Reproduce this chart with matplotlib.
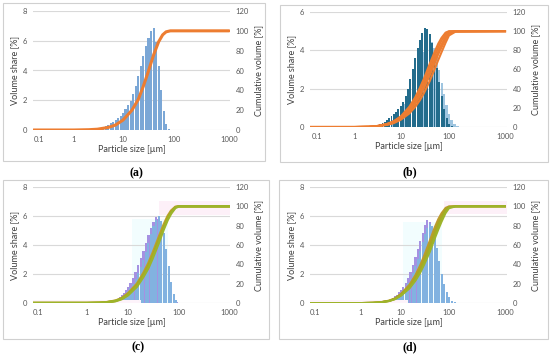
import numpy as np
import matplotlib
matplotlib.use('Agg')
import matplotlib.pyplot as plt
from matplotlib.patches import Rectangle

# ---------------- data ----------------
sizes = [2.0, 2.24, 2.51, 2.82, 3.16, 3.55, 3.98, 4.47, 5.01, 5.62, 6.31, 7.08, 7.94, 8.91,
         10.0, 11.2, 12.6, 14.1, 15.8, 17.8, 20.0, 22.4, 25.1, 28.2, 31.6, 35.5, 39.8, 44.7,
         50.1, 56.2, 63.1, 70.8, 79.4, 89.1, 100, 112, 126, 141, 158]

a_vol = [0, 0, 0.02, 0.05, 0.09, 0.14, 0.2, 0.27, 0.35, 0.44, 0.54, 0.66, 0.8, 0.96, 1.15,
         1.38, 1.65, 1.98, 2.4, 2.95, 3.6, 4.3, 5.0, 5.65, 6.2, 6.65, 6.85, 5.9, 4.3, 2.7,
         1.3, 0.4, 0.06, 0, 0, 0, 0, 0, 0]

b_dark = [0, 0.01, 0.03, 0.06, 0.1, 0.15, 0.21, 0.28, 0.36, 0.45, 0.55, 0.66, 0.78, 0.92, 1.08,
          1.3, 1.6, 2.0, 2.5, 3.05, 3.6, 4.1, 4.55, 4.9, 5.15, 5.1, 4.85, 4.4, 3.8, 3.1,
          2.35, 1.6, 0.95, 0.45, 0.15, 0.04, 0.01, 0, 0]
b_light = [0, 0, 0.01, 0.03, 0.05, 0.08, 0.12, 0.17, 0.23, 0.3, 0.38, 0.47, 0.57, 0.69, 0.82,
           0.98, 1.2, 1.48, 1.82, 2.2, 2.62, 3.05, 3.5, 3.9, 4.25, 4.5, 4.6, 4.45, 4.1, 3.6,
           3.0, 2.3, 1.7, 1.15, 0.7, 0.38, 0.18, 0.07, 0.02]

c_purple = [0, 0, 0, 0, 0.02, 0.05, 0.1, 0.15, 0.22, 0.3, 0.4, 0.52, 0.68, 0.88, 1.1,
            1.4, 1.75, 2.15, 2.6, 3.1, 3.6, 4.15, 4.7, 5.2, 5.6, 5.9, 5.8, 5.2, 4.2, 3.0,
            1.8, 0.9, 0.3, 0.05, 0, 0, 0, 0, 0]
c_blue = [0, 0, 0, 0, 0, 0.02, 0.05, 0.09, 0.14, 0.2, 0.28, 0.37, 0.48, 0.62, 0.8,
          1.02, 1.3, 1.65, 2.05, 2.5, 3.0, 3.55, 4.15, 4.75, 5.3, 5.75, 6.0, 5.65, 4.85, 3.75,
          2.55, 1.45, 0.65, 0.2, 0.03, 0, 0, 0, 0]

d_purple = [0, 0, 0, 0.01, 0.03, 0.06, 0.1, 0.15, 0.21, 0.28, 0.36, 0.46, 0.58, 0.73, 0.9,
            1.12, 1.4, 1.75, 2.15, 2.62, 3.15, 3.7, 4.3, 4.85, 5.35, 5.7, 5.6, 5.1, 4.3, 3.4,
            2.45, 1.6, 0.9, 0.4, 0.12, 0.02, 0, 0, 0]
d_blue = [0, 0, 0, 0, 0.01, 0.03, 0.06, 0.1, 0.15, 0.21, 0.28, 0.36, 0.46, 0.58, 0.72,
          0.9, 1.12, 1.4, 1.72, 2.1, 2.55, 3.05, 3.6, 4.2, 4.75, 5.2, 5.45, 5.3, 4.85, 3.8,
          2.9, 2.0, 1.3, 0.75, 0.38, 0.16, 0.06, 0.02, 0]

cum_sizes = [0.07, 1, 2, 3, 5, 7, 10, 15, 20, 25, 30, 40, 50, 60, 70, 85, 100, 130, 1000]

a_cum = [[0, 0, 0.3, 0.8, 2.6, 5, 10, 20, 31, 44, 56, 76, 89, 96, 99, 100, 100, 100, 100]]

b_cum = [
    [0, 0, 0.3, 1.0, 3.2, 6.0, 11.0, 21.0, 31, 41, 50, 66, 78, 87, 93, 98.5, 100, 100, 100],
    [0, 0, 0.3, 0.9, 3.0, 5.6, 10.2, 19.5, 29, 38, 47, 62, 74, 83, 90, 96.5, 99.5, 100, 100],
    [0, 0, 0.2, 0.8, 2.7, 5.0, 9.2, 17.5, 26, 34.5, 43, 58, 70, 79, 86, 94, 98.5, 100, 100],
    [0, 0, 0.2, 0.8, 2.4, 4.5, 8.3, 16.0, 24, 32, 40, 54, 66, 76, 83, 92, 97.5, 99.8, 100],
    [0, 0, 0.2, 0.7, 2.2, 4.0, 7.5, 14.0, 21, 28, 35, 48, 60, 70, 78, 88, 95.5, 99.4, 100],
]

c_cum = [
    [0, 0, 0.3, 0.8, 2.5, 5.0, 10, 20, 31, 41, 51, 68, 81, 90, 95.5, 99.5, 100, 100, 100],
    [0, 0, 0.3, 0.7, 2.2, 4.5, 9, 18.5, 29, 38.5, 48, 65, 78, 88, 94, 99, 100, 100, 100],
    [0, 0, 0.2, 0.6, 2.0, 4.0, 8, 17, 27, 36, 45.5, 62, 76, 86, 92.5, 98.5, 100, 100, 100],
]

d_cum = [
    [0, 0, 0.3, 0.8, 2.5, 4.8, 9.5, 19, 29, 39, 48.5, 65, 78, 87, 93, 98.5, 100, 100, 100],
    [0, 0, 0.3, 0.7, 2.3, 4.5, 9.0, 18, 27.5, 37, 46, 62, 75, 84.5, 91, 97.5, 99.6, 100, 100],
    [0, 0, 0.2, 0.7, 2.1, 4.2, 8.5, 17, 26, 35, 43.5, 59, 72, 82, 89, 96.5, 99.3, 100, 100],
    [0, 0, 0.2, 0.6, 2.0, 4.0, 8.0, 16, 24.5, 33, 41, 56, 69, 79, 86.5, 95, 98.8, 100, 100],
    [0, 0, 0.2, 0.6, 1.9, 3.8, 7.5, 15, 23, 31, 39, 53, 66, 76, 84, 93, 98, 99.8, 100],
]

x_ticks = [0.1, 1, 10, 100, 1000]
x_tick_labels = ['0.1', '1', '10', '100', '1000']
panel_labels = ['(a)', '(b)', '(c)', '(d)']

# ---------------- layout helpers ----------------
W, H = 550, 355
fig = plt.figure(figsize=(5.5, 3.55), dpi=100)
fig.patch.set_facecolor('white')

FONT = ['Lato', 'DejaVu Sans']
TICK_C = '#595959'
GRID_C = '#D9D9D9'


def make_scale(P):
    L = [-4, -1, 0, 1, 2, 3, 6]
    P2 = [P[0] - 3 * (P[1] - P[0])] + list(P) + [P[4] + 3 * (P[4] - P[3])]

    def fwd(x):
        x = np.asarray(x, float)
        lx = np.log10(np.where(x > 0, x, 1e-12))
        return np.interp(lx, L, P2)

    def inv(p):
        return 10 ** np.interp(np.asarray(p, float), P2, L)
    return fwd, inv


def add_axes(left, top, right, bottom):
    return fig.add_axes([left / W, 1 - bottom / H, (right - left) / W, (bottom - top) / H])


def frame(x0, y0, x1, y1):
    fig.patches.append(Rectangle((x0 / W, 1 - y1 / H), (x1 - x0) / W, (y1 - y0) / H,
                                 transform=fig.transFigure, fill=False,
                                 edgecolor='#D0D0D0', linewidth=0.8))


def setup(ax, ax2, tickpx, ymax_left, ystep):
    fwd, inv = make_scale(tickpx)
    ax.set_xscale('function', functions=(fwd, inv))
    ax.set_xlim(float(inv(0)), float(inv(197)))
    ax.set_xticks(x_ticks)
    ax.set_xticklabels(x_tick_labels)
    ax.xaxis.set_minor_locator(matplotlib.ticker.NullLocator())
    ax.set_ylim(0, ymax_left)
    ax.set_yticks(np.arange(0, ymax_left + 0.01, ystep))
    ax.set_yticklabels([str(int(v)) for v in np.arange(0, ymax_left + 0.01, ystep)])
    ax2.set_ylim(0, 120)
    ax2.set_yticks(range(0, 121, 20))
    ax.grid(axis='y', color=GRID_C, linewidth=0.8)
    ax.set_axisbelow(True)
    for a in (ax, ax2):
        for s in a.spines.values():
            s.set_visible(False)
        a.tick_params(length=0, colors=TICK_C, labelsize=5.5, pad=4)
        for t in a.get_xticklabels() + a.get_yticklabels():
            t.set_family(FONT)
    ax.set_xlabel('Particle size [µm]', fontsize=6.5, color='#404040', family=FONT, labelpad=2)
    ax.set_ylabel('Volume share [%]', fontsize=6.5, color='#404040', family=FONT, labelpad=3)
    ax2.set_ylabel('Cumulative volume [%]', fontsize=6.5, color='#404040', family=FONT, labelpad=4)


def bars(ax, vals, color, alpha=1.0, frac=0.85, z=2):
    s = np.asarray(sizes)
    half = 0.05 * frac / 2
    left = s * 10 ** (-half)
    right = s * 10 ** (half)
    ax.bar(left, vals, width=right - left, align='edge', color=color, alpha=alpha,
           linewidth=0, zorder=z)


# ---------------- panel frames ----------------
frame(3, 3, 265, 161)
frame(280, 5, 548, 162)
frame(3, 180, 269, 339)
frame(279, 180, 548, 339)

# ---------------- (a) ----------------
ax = add_axes(33, 11, 230, 130)
ax2 = ax.twinx()
setup(ax, ax2, [6, 41, 90, 141, 196], 8, 2)
bars(ax, a_vol, '#7BA7D6', frac=0.85)
for cv in a_cum:
    ax2.plot(cum_sizes, cv, color='#ED7D31', linewidth=2.2, solid_capstyle='round')

# ---------------- (b) ----------------
ax = add_axes(310, 12, 507, 127)
ax2 = ax.twinx()
setup(ax, ax2, [6.7, 45, 90.7, 139, 195], 6, 2)
bars(ax, b_light, '#7FB2D6', alpha=0.75, frac=0.9)
bars(ax, b_dark, '#236C8C', frac=0.8, z=3)
for cv in b_cum:
    ax2.plot(cum_sizes, cv, color='#ED7D31', linewidth=1.5)

# ---------------- (c) ----------------
ax = add_axes(33, 187, 230, 303)
ax2 = ax.twinx()
setup(ax, ax2, [5, 54, 95, 146, 196], 8, 2)
ax.axvspan(12, 60, ymin=0, ymax=0.72, color='#F2FDFE', zorder=0.5, linewidth=0)
ax2.axhspan(91, 106, xmin=0.64, xmax=1.0, color='#FDF0F8', zorder=0.5, linewidth=0)
ax2.axhspan(0, 3, xmin=0.0, xmax=0.55, color='#FDF3FA', zorder=0.5, linewidth=0)
bars(ax, c_purple, '#A591E2', frac=0.9)
bars(ax, c_blue, '#82B2E0', frac=0.8, z=3)
c_colors = ['#BFA02E', '#A9A820', '#9DB42B']
for cv, col in zip(c_cum, c_colors):
    ax2.plot(cum_sizes, cv, color=col, linewidth=1.8)

# ---------------- (d) ----------------
ax = add_axes(310, 187, 507, 303)
ax2 = ax.twinx()
setup(ax, ax2, [5, 51, 91, 139, 195], 8, 2)
ax.axvspan(11, 70, ymin=0, ymax=0.7, color='#F2FDFE', zorder=0.5, linewidth=0)
ax2.axhspan(92, 106, xmin=0.68, xmax=1.0, color='#FDF0F8', zorder=0.5, linewidth=0)
ax2.axhspan(0, 3, xmin=0.0, xmax=0.5, color='#FDF3FA', zorder=0.5, linewidth=0)
bars(ax, d_purple, '#A591E2', frac=0.9)
bars(ax, d_blue, '#82B2E0', frac=0.8, z=3)
d_colors = ['#C09A30', '#B5A02A', '#A9A820', '#A2AE25', '#9DB42B']
for cv, col in zip(d_cum, d_colors):
    ax2.plot(cum_sizes, cv, color=col, linewidth=1.4)

# ---------------- panel labels ----------------
for lab, (px, py) in zip(panel_labels, [(136, 173), (410, 172), (138, 347), (410, 347)]):
    fig.text(px / W, 1 - py / H, lab, ha='center', va='center', fontsize=8.5,
             fontweight='bold', family=['Liberation Serif', 'DejaVu Serif'])

fig.savefig('out.png', dpi=100, facecolor='white')
